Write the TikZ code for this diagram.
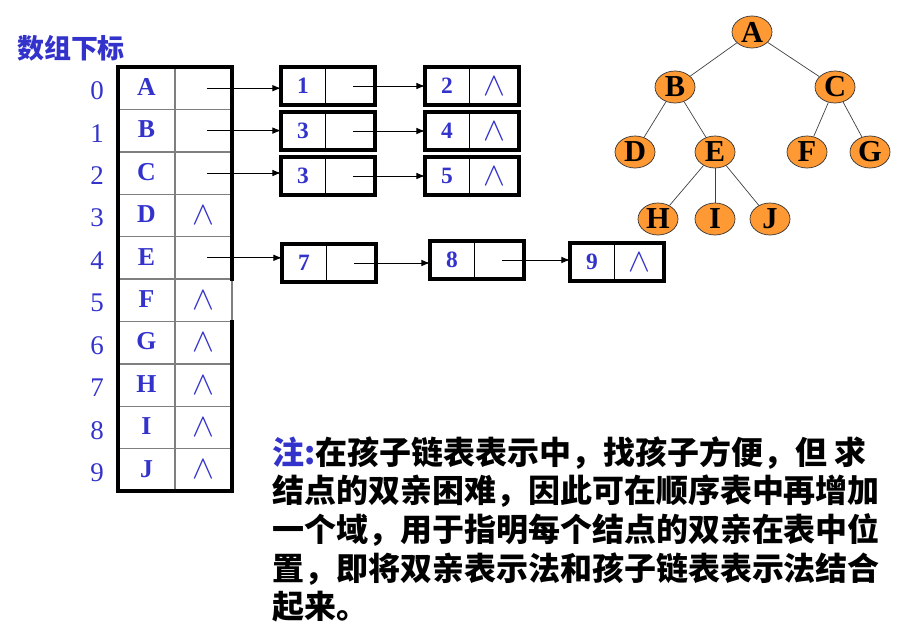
\documentclass[tikz,border=0pt]{standalone}
\usepackage{graphicx}
\usepackage{fontspec}
\setmainfont{Liberation Serif}
\newfontfamily\cjk{Noto Sans CJK SC}
\usetikzlibrary{arrows.meta,positioning,shapes.geometric}
\definecolor{labelblue}{HTML}{3333CC}
\definecolor{treeorange}{HTML}{FF9933}
\definecolor{cellgray}{HTML}{7F7F7F}
\tikzset{
  datacell/.style={draw=cellgray,line width=1.2pt,minimum width=1.71cm,minimum height=1.272cm,inner sep=0pt,outer sep=0pt,text=labelblue,font=\fontsize{22}{22}\selectfont\bfseries},
  ptrcell/.style={datacell,font=\fontsize{20}{20}\selectfont},
  idx/.style={text=labelblue,font=\fontsize{23}{23}\selectfont},
  frame/.style={line width=2.8pt,line cap=rect},
  valcell/.style={draw=black,line width=.8pt,minimum width=1.32cm,minimum height=1.14cm,inner sep=0pt,outer sep=0pt,text=labelblue,font=\fontsize{20}{20}\selectfont\bfseries},
  nextcell/.style={valcell,minimum width=1.5cm,font=\fontsize{20}{20}\selectfont},
  boxframe/.style={line width=2.6pt},
  link/.style={-{Latex[length=2.6mm,width=2mm]},line width=.8pt},
  treenode/.style={ellipse,draw=black!80,line width=.6pt,fill=treeorange,minimum width=1.2cm,minimum height=.96cm,inner sep=0pt,font=\fontsize{26}{26}\selectfont\bfseries},
  edge/.style={draw=black!75,line width=.6pt},
  head/.style={text=labelblue,font=\cjk\bfseries\fontsize{23}{23}\selectfont},
  note/.style={align=left,inner sep=0pt,font=\cjk\bfseries\fontsize{27.3}{33}\selectfont},
}
\newcommand\listbox[5]{%
  \node[valcell] (#1) at (#2,#3) {#4};
  \node[nextcell,right=0pt of #1] (#1n) {#5};
  \draw[boxframe] (#1.north west) rectangle (#1n.south east);}
\newcommand\nil{{\fontsize{20}{20}\selectfont\scalebox{1.35}{$\wedge$}}}

\begin{document}
\begin{tikzpicture}[x=.03cm,y=-.03cm]
  \useasboundingbox (0,0) rectangle (902,641);
  \node[head] (head) at (71,48) {数组下标};
  % array of heads
  \foreach \l [count=\i from 0] in {A,B,C,D,E,F,G,H,I,J} {
    \node[datacell] (d\i) at (146.5,{88.2+42.4*\i}) {\raisebox{2pt}{\l}};
    \node[ptrcell,right=0pt of d\i] (p\i) {};
    \node[idx] (i\i) at (97,{91+42.4*\i}) {\i};
  }
  \foreach \i in {3,5,6,7,8,9} \node[text=labelblue] at (p\i) {\nil};
  \draw[frame] (p4.south east) -- (p0.north east) -- (d0.north west) -- (d9.south west) -- (p9.south east) -- (p6.north east);
  % child lists
  \listbox{n0a}{303}{86}{1}{}
  \listbox{n0b}{447}{86}{2}{\nil}
  \listbox{n1a}{303}{131}{3}{}
  \listbox{n1b}{447}{131}{4}{\nil}
  \listbox{n2a}{303}{176}{3}{}
  \listbox{n2b}{447}{176}{5}{\nil}
  \listbox{n4a}{304}{263}{7}{}
  \listbox{n4b}{452}{260}{8}{}
  \listbox{n4c}{592}{262}{9}{\nil}
  \foreach \i in {0,1,2,4} \draw[link] ([xshift=.1cm]p\i.center) -- (n\i a.west |- p\i.center);
  \foreach \i in {0,1,2} \draw[link] ([xshift=.1cm]n\i an.center) -- (n\i b.west |- n\i an.center);
  \draw[link] ([xshift=.1cm]n4an.center) -- (n4b.west |- n4an.center);
  \draw[link] ([xshift=.1cm]n4bn.center) -- (n4c.west |- n4bn.center);
  % the tree
  \foreach \n/\x/\y in {A/752/32,B/675/87,C/835/87,D/635/152,E/715/152,F/807/152,G/870/152,H/658/219,I/715/219,J/770/219}
    \node[treenode] (t\n) at (\x,\y) {\n};
  \foreach \a/\b in {A/B,A/C,B/D,B/E,C/F,C/G,E/H,E/I,E/J} \draw[edge] (t\a) -- (t\b);
  \node[note,anchor=north west] (note) at (272,436) {{\color{labelblue}注:}在孩子链表表示中，找孩子方便，但 求\\
    结点的双亲困难，因此可在顺序表中再增加\\
    一个域，用于指明每个结点的双亲在表中位\\
    置，即将双亲表示法和孩子链表表示法结合\\
    起来。};
\end{tikzpicture}
\end{document}
